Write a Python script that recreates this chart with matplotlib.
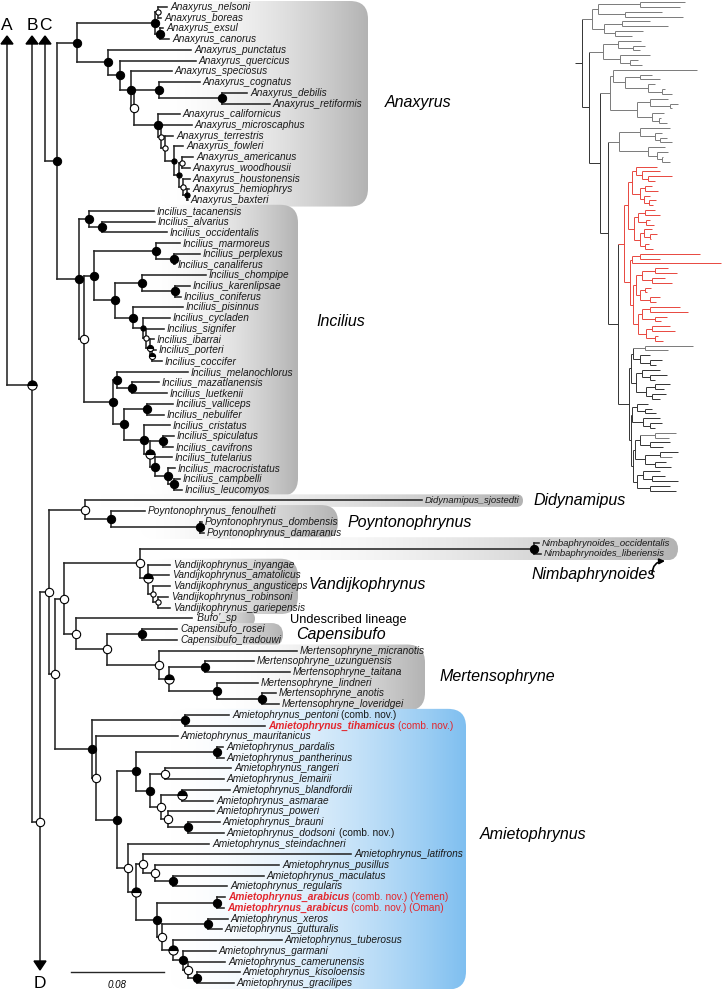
import numpy as np
import matplotlib
matplotlib.use('Agg')
import matplotlib.pyplot as plt
from matplotlib.patches import FancyBboxPatch, Polygon
from matplotlib.collections import LineCollection

plt.rcParams['font.family'] = ['Liberation Sans', 'DejaVu Sans']

# ---- main tree: newick with absolute node depth (px) after ':' ; node labels = support (f filled, o open, h half, s = small)
incilius_newick = (
    "((Incilius_tacanensis:154,(Incilius_alvarius:155,Incilius_occidentalis:167)f:102)f:89,"
    "(((Incilius_marmoreus:180,(Incilius_perplexus:200,Incilius_canaliferus:175)f:174)f:156,"
    "((Incilius_chompipe:206,(Incilius_karenlipsae:190,Incilius_coniferus:181)f:175)f:142,"
    "(Incilius_pisinnus:183,(Incilius_cycladen:170,(Incilius_signifer:164,(Incilius_ibarrai:154,"
    "(Incilius_porteri:156,Incilius_coccifer:162)sh:152)sh:150)so:146)sf:143)f:133)f:115)f:94,"
    "((Incilius_melanochlorus:188,(Incilius_mazatlanensis:159,Incilius_luetkenii:167)f:132)f:117,"
    "((Incilius_valliceps:173,Incilius_nebulifer:164)f:147,(Incilius_cristatus:170,"
    "((Incilius_spiculatus:174,Incilius_cavifrons:173)f:163,(Incilius_tutelarius:172,"
    "(Incilius_macrocristatus:175,(Incilius_campbelli:180,Incilius_leucomyos:182)f:174)f:168)f:155)h:150)f:144)f:124)f:113)o:84)f:79"
)
anaxyrus_newick = (
    "(((Anaxyrus_nelsoni:167,Anaxyrus_boreas:161)so:158,(Anaxyrus_exsul:163,Anaxyrus_canorus:169)f:160)f:155,"
    "(Anaxyrus_punctatus:191,(Anaxyrus_quercicus:196,(Anaxyrus_speciosus:172,"
    "((Anaxyrus_cognatus:200,(Anaxyrus_debilis:247,Anaxyrus_retiformis:270)f:222)f:159,"
    "(Anaxyrus_californicus:180,(Anaxyrus_microscaphus:192,(Anaxyrus_terrestris:173,(Anaxyrus_fowleri:183,"
    "((Anaxyrus_americanus:193,Anaxyrus_woodhousii:190)so:182,(Anaxyrus_houstonensis:190,"
    "(Anaxyrus_hemiophrys:189,Anaxyrus_baxteri:188)sf:187)so:183)sf:179)sf:174)so:165)so:161)f:158)o:134)f:131)f:120)f:108)f:77"
)
na_newick = "(" + anaxyrus_newick + "," + incilius_newick + ")f:57"

amieto_newick = (
    "((Amietophrynus_pentoni:229,Amietophrynus_tihamicus:265)f:185,(Amietophrynus_mauritanicus:178,"
    "(((Amietophrynus_pardalis:223,Amietophrynus_pantherinus:224)f:217,((Amietophrynus_rangeri:231,"
    "Amietophrynus_lemairii:224)o:165,((Amietophrynus_blandfordii:230,Amietophrynus_asmarae:213)h:182,"
    "(Amietophrynus_poweri:214,(Amietophrynus_brauni:220,Amietophrynus_dodsoni:224)f:188)o:168)o:161)f:150)f:136,"
    "(Amietophrynus_steindachneri:209,((Amietophrynus_latifrons:351,(Amietophrynus_pusillus:279,"
    "(Amietophrynus_maculatus:264,Amietophrynus_regularis:227)f:173)o:155)o:143,"
    "((Amietophrynus_arabicus_Y:225,Amietophrynus_arabicus_O:224)f:217,((Amietophrynus_xeros:228,"
    "Amietophrynus_gutturalis:222)f:208,(Amietophrynus_tuberosus:282,(Amietophrynus_garmani:216,"
    "(Amietophrynus_camerunensis:225,(Amietophrynus_kisoloensis:240,Amietophrynus_gracilipes:234)f:197)o:188)f:183)h:173)o:162)f:157)h:136)o:128)f:117)o:96)f:92"
)
af_newick = (
    "((Didynamipus_sjostedti:422,(Poyntonophrynus_fenoulheti:145,(Poyntonophrynus_dombensis:202,"
    "Poyntonophrynus_damaranus:204)f:200)f:111)o:85,((((Nimbaphrynoides_occidentalis:539,"
    "Nimbaphrynoides_liberiensis:541)f:534,(Vandijkophrynus_inyangae:170,Vandijkophrynus_amatolicus:169,"
    "(Vandijkophrynus_angusticeps:170,(Vandijkophrynus_robinsoni:168,Vandijkophrynus_gariepensis:170)so:158)so:153)h:148)o:140,"
    "(Bufo_sp:192,((Capensibufo_rosei:177,Capensibufo_tradouwi:177)f:142,(Mertensophryne_micranotis:297,"
    "((Mertensophryne_uzunguensis:254,Mertensophryne_taitana:290)f:205,(Mertensophryne_lindneri:258,"
    "(Mertensophryne_anotis:276,Mertensophryne_loveridgei:279)f:262)f:217)h:169)o:159)o:107)o:76)o:64,"
    + amieto_newick + ")o:55)o:49"
)

display_names = {'Bufo_sp': '\u2018Bufo\u2019_sp',
                 'Amietophrynus_arabicus_Y': 'Amietophrynus_arabicus',
                 'Amietophrynus_arabicus_O': 'Amietophrynus_arabicus'}
red_taxa = ['Amietophrynus_tihamicus', 'Amietophrynus_arabicus_Y', 'Amietophrynus_arabicus_O']
suffix_taxa = ['Amietophrynus_pentoni', 'Amietophrynus_tihamicus', 'Amietophrynus_dodsoni',
               'Amietophrynus_arabicus_Y', 'Amietophrynus_arabicus_O']
suffix_text = ['(comb. nov.)', '(comb. nov.)', '(comb. nov.)', '(comb. nov.) (Yemen)', '(comb. nov.) (Oman)']

# stems to the rest of the tree (A, B, C up, D down)
stem_names = ['A', 'B', 'C']
stem_x = [7, 32, 45]
stem_join_y = [385, 822]          # A joins B, B joins D
stem_top = 36
d_x = 40
d_bottom = 970

# shaded clade boxes
box_first = ['Anaxyrus_nelsoni', 'Incilius_tacanensis', 'Didynamipus_sjostedti', 'Poyntonophrynus_fenoulheti',
             'Nimbaphrynoides_occidentalis', 'Vandijkophrynus_inyangae', 'Bufo_sp', 'Capensibufo_rosei',
             'Mertensophryne_micranotis', 'Amietophrynus_pentoni']
box_last = ['Anaxyrus_baxteri', 'Incilius_leucomyos', 'Didynamipus_sjostedti', 'Poyntonophrynus_damaranus',
            'Nimbaphrynoides_liberiensis', 'Vandijkophrynus_gariepensis', 'Bufo_sp', 'Capensibufo_tradouwi',
            'Mertensophryne_loveridgei', 'Amietophrynus_gracilipes']
box_left = [160, 150, 100, 140, 230, 150, 185, 165, 220, 170]
box_right = [368, 298, 523, 338, 678, 298, 255, 283, 425, 466]
box_color = ['#b3b3b3'] * 9 + ['#7fbff0']

genus_names = ['Anaxyrus', 'Incilius', 'Didynamipus', 'Poyntonophrynus', 'Nimbaphrynoides',
               'Vandijkophrynus', 'Capensibufo', 'Mertensophryne', 'Amietophrynus']
genus_x = [385, 316, 533, 347, 532, 309, 296, 440, 480]
genus_y = [102, 322, 500, 523, 575, 584, 635, 677, 835]

scale_value = 0.08
px_per_unit = 1162

# thumbnail of the whole tree (g grey, r red, k black)
G1 = "(((g:685,g:680)g:640,(g:662,g:683)g:625)g:598,((g:650,g:668)g:622,(g:643,g:632)g:615)g:604)g:592"
G2 = "((g:641,(g:645,g:640)g:633)g:618,(g:650,(g:638,g:642)g:630)g:620)g:603"
G3 = ("((g:697,((g:652,g:660)g:640,(g:655,(g:665,g:672)g:662)g:648)g:625)g:613,"
      "((g:668,(g:678,g:672)g:670)g:650,(g:664,(g:661,g:667)g:659)g:652)g:637)g:610")
G4 = "((g:670,(g:662,(g:667,g:672)g:660)g:655)g:640,(g:665,(g:668,(g:663,g:670)g:662)g:657)g:648)g:619"
R1 = "((r:657,(r:660,(r:672,r:655)r:648)r:642)r:636,((r:652,r:658)r:645,(r:650,(r:656,r:653)r:649)r:644)r:640)r:632"
R2 = "(((r:655,r:660)r:645,(r:650,r:654)r:646)r:638,((r:652,(r:657,r:651)r:650)r:644,(r:649,r:653)r:645)r:640)r:634"
R3 = "((r:700,r:660)r:640,r:721)r:632"
R4 = "(((r:668,r:677)r:655,(r:665,r:672)r:652)r:642,((r:651,r:647)r:645,(r:660,r:656)r:650)r:640)r:636"
R5 = "(((r:680,r:688)r:650,(r:667,r:661)r:655)r:642,((r:670,r:675)r:652,(r:658,r:663)r:655)r:646)r:638"
B1 = "((g:693,g:668)g:645,(k:650,(k:662,k:656)k:650)k:640)k:633"
B2 = "((k:660,(k:667,k:655)k:650)k:642,((k:670,k:664)k:655,(k:666,k:660)k:652)k:646)k:636"
B3 = "((k:648,(k:652,k:656)k:645)k:637,(k:660,(k:662,k:655)k:650)k:643)k:632"
B4 = "(((g:676,g:669)g:655,(k:670,k:663)k:650)k:640,((k:678,g:672)k:660,(k:666,k:671)k:655)k:645)k:635"
B5 = "((k:660,(k:665,k:678)k:652)k:643,(k:670,k:676)k:650)k:637"
thumb_newick = ("(" + G1 + ",(" + G2 + ",(" + G3 + ",(" + G4 + ",(((" + R1 + "," + R2 + ")r:628,(" + R3 + ",(" + R4 + ","
                + R5 + ")r:633)r:630)r:624,((" + B1 + "," + B2 + ")k:631,(" + B3 + ",(" + B4 + "," + B5
                + ")k:633)k:631)k:629)k:618)k:608)k:600)k:589)k:582")
thumb_colors = {'g': '#7a7a7a', 'r': '#e8473f', 'k': '#333333'}


def parse(s):
    pos = 0

    def node():
        nonlocal pos
        children = []
        if s[pos] == '(':
            pos += 1
            children.append(node())
            while s[pos] == ',':
                pos += 1
                children.append(node())
            pos += 1
        start = pos
        while pos < len(s) and s[pos] not in ':,()':
            pos += 1
        label = s[start:pos]
        x = None
        if pos < len(s) and s[pos] == ':':
            pos += 1
            start = pos
            while pos < len(s) and s[pos] not in ',()':
                pos += 1
            x = float(s[start:pos])
        return {'label': label, 'x': x, 'children': children}
    return node()


def layout(node, leaves, y0, dy):
    if not node['children']:
        node['y'] = y0 + len(leaves) * dy
        leaves.append(node)
    else:
        for c in node['children']:
            layout(c, leaves, y0, dy)
        node['y'] = np.mean([c['y'] for c in node['children']])


def edges(node, segs, cols=None, colfn=None):
    ch = node['children']
    if ch:
        ys = [c['y'] for c in ch]
        segs.append([(node['x'], min(ys)), (node['x'], max(ys))])
        if cols is not None:
            cols.append(colfn(node))
        for c in ch:
            segs.append([(node['x'], c['y']), (c['x'], c['y'])])
            if cols is not None:
                cols.append(colfn(c))
            edges(c, segs, cols, colfn)


def internal(node, out):
    if node['children']:
        out.append(node)
        for c in node['children']:
            internal(c, out)


fig = plt.figure(figsize=(7.23, 9.92), dpi=100)
ax = fig.add_axes([0, 0, 1, 1])

na = parse(na_newick)
af = parse(af_newick)
leaves = []
layout(na, leaves, 7, 10.725)
layout(af, leaves, 7, 10.725)
leaf_y = {l['label']: l['y'] for l in leaves}

# clade boxes with gradient
for first, last, x0, x1, col in zip(box_first, box_last, box_left, box_right, box_color):
    y0 = leaf_y[first] - 6
    y1 = leaf_y[last] + 6.5
    h = y1 - y0
    r = min(18, h / 2)
    rgb = np.array(matplotlib.colors.to_rgb(col))
    t = np.linspace(0, 1, 256) ** 1.7
    grad = (1 - t)[:, None] * np.ones(3) + t[:, None] * rgb
    img = grad[None, :, :]
    patch = FancyBboxPatch((x0, y0), x1 - x0, h, boxstyle=f"round,pad=0,rounding_size={r}",
                           facecolor='none', edgecolor='none', transform=ax.transData)
    ax.add_patch(patch)
    im = ax.imshow(img, extent=(x0, x1, y1, y0), aspect='auto', zorder=0, interpolation='bilinear')
    im.set_clip_path(patch)

# branches
segs = []
edges(na, segs)
edges(af, segs)
# stems
a_x, b_x, c_x = stem_x
segs += [[(a_x, stem_top + 7), (a_x, stem_join_y[0])], [(a_x, stem_join_y[0]), (b_x, stem_join_y[0])],
         [(b_x, stem_top + 7), (b_x, stem_join_y[1])], [(b_x, stem_join_y[1]), (d_x, stem_join_y[1])],
         [(c_x, stem_top + 7), (c_x, na['y'])], [(c_x, na['y']), (na['x'], na['y'])],
         [(d_x, af['y']), (d_x, d_bottom - 8)], [(d_x, af['y']), (af['x'], af['y'])]]
ax.add_collection(LineCollection(segs, colors='#262626', linewidths=1.15, capstyle='projecting', zorder=2))

for sx, name in zip(stem_x, stem_names):
    ax.add_patch(Polygon([(sx - 6, stem_top + 8), (sx + 6, stem_top + 8), (sx, stem_top)],
                         closed=True, facecolor='black', edgecolor='black', zorder=3))
    ax.text(sx, 25, name, fontsize=12.5, ha='center', va='center')
ax.add_patch(Polygon([(d_x - 6, d_bottom - 9), (d_x + 6, d_bottom - 9), (d_x, d_bottom)],
                     closed=True, facecolor='black', edgecolor='black', zorder=3))
ax.text(d_x, 983, 'D', fontsize=12.5, ha='center', va='center')


def support(x, y, lab):
    small = lab.startswith('s')
    kind = lab[-1]
    ms = 3.8 if small else 6.0
    if kind == 'f':
        ax.plot(x, y, 'o', ms=ms, mfc='black', mec='black', mew=0.7, zorder=5)
    elif kind == 'o':
        ax.plot(x, y, 'o', ms=ms, mfc='white', mec='black', mew=0.8, zorder=5)
    elif kind == 'h':
        ax.plot(x, y, 'o', ms=ms + 0.6, fillstyle='top', mfc='black', markerfacecoloralt='white',
                mec='black', mew=0.8, zorder=5)


nodes = []
internal(na, nodes)
internal(af, nodes)
for n in nodes:
    support(n['x'], n['y'], n['label'])
support(stem_x[1], stem_join_y[0], 'h')
support(d_x, stem_join_y[1], 'o')

# tip labels
red = '#e3262d'
for l in leaves:
    key = l['label']
    small_lab = key.startswith('Nimba') or key.startswith('Didy')
    fs = 6.8 if small_lab else 7.3
    is_red = key in red_taxa
    t = ax.text(l['x'] + 3, l['y'], display_names.get(key, key), fontsize=fs, style='italic',
                weight='bold' if is_red else 'normal', color=red if is_red else '#1a1a1a',
                ha='left', va='center', zorder=6)
    if key in suffix_taxa:
        ax.annotate(suffix_text[suffix_taxa.index(key)], xy=(1, 0.5), xycoords=t, xytext=(2, 0),
                    textcoords='offset points', fontsize=fs, color=red if is_red else '#1a1a1a',
                    ha='left', va='center', zorder=6)

for g, gx, gy in zip(genus_names, genus_x, genus_y):
    ax.text(gx, gy, g, fontsize=11.5, style='italic', ha='left', va='center')
ax.text(290, 620, 'Undescribed lineage', fontsize=9.2, ha='left', va='center')
ax.annotate('', xy=(665, 561), xytext=(652, 574),
            arrowprops=dict(arrowstyle='-|>', connectionstyle='arc3,rad=-0.45', lw=1.2,
                            color='black', mutation_scale=8, shrinkA=0, shrinkB=0))

# scale bar
sb_len = scale_value * px_per_unit
ax.plot([71, 71 + sb_len], [972, 972], color='#262626', lw=1.0)
ax.text(71 + sb_len / 2, 985, f'{scale_value:.2f}', fontsize=7, style='italic', ha='center', va='center')

# thumbnail tree
th = parse(thumb_newick)
th_leaves = []
layout(th, th_leaves, 2, 4.84)
tsegs, tcols = [], []
edges(th, tsegs, tcols, lambda n: thumb_colors[n['label'][0]])
tsegs.append([(575, th['y']), (th['x'], th['y'])])
tcols.append(thumb_colors['k'])
ax.add_collection(LineCollection(tsegs, colors=tcols, linewidths=0.7, zorder=2))

ax.set_xlim(0, 723)
ax.set_ylim(992, 0)
ax.axis('off')
fig.savefig('out.png', dpi=100)
